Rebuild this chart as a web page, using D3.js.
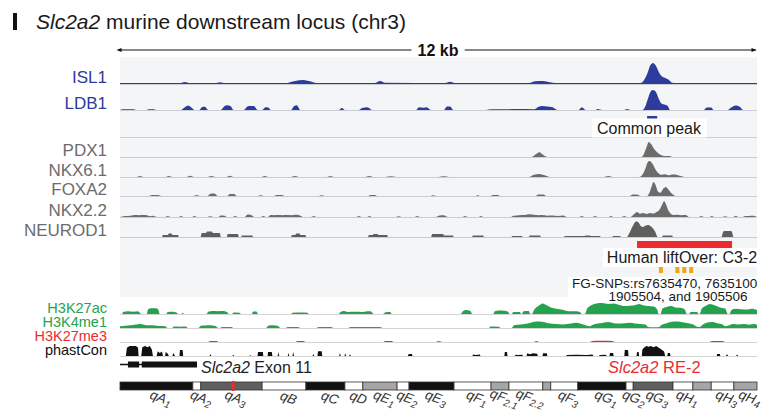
<!DOCTYPE html>
<html>
<head>
<meta charset="utf-8">
<script src="https://cdn.jsdelivr.net/npm/d3@7"></script>
<style>
  body { margin: 0; background: #fff; }
  text { font-family: "Liberation Sans", Arial, Helvetica, sans-serif; }
</style>
</head>
<body>
<div id="chart"></div>
<script>
// ---- data: positions in kb along the 12 kb locus, signal in arbitrary units ----
var locusKb = 12;

var isl1 = [[0,4],[1.13,4],[1.22,9],[1.32,4],[1.79,4],[1.88,8],[1.98,4],[3.11,4],[3.3,14],[3.45,18],[3.58,12],[3.7,4],
  [4.8,5],[4.9,14],[4.99,6],[6.12,4],[6.22,10],[6.31,4],[7.72,5],[7.82,12],[7.97,14],[8.1,8],[8.2,4],[9.8,4],[9.85,10],
  [9.93,45],[9.99,85],[10.04,96],[10.09,85],[10.15,55],[10.2,36],[10.27,27],[10.33,20],[10.4,6],[10.5,4],[12,4]];

var ldb1 = [[0,0],[0.05,3],[0.25,3],[0.3,0],[0.5,0],[0.55,3],[0.63,3],[0.68,0],[1.15,0],[1.22,12],[1.28,20],[1.34,12],[1.4,0],
  [1.49,0],[1.55,14],[1.6,15],[1.66,0],[1.9,0],[1.96,16],[2.02,22],[2.08,18],[2.14,0],[2.33,0],[2.4,16],[2.45,18],[2.52,18],[2.59,0],
  [2.68,0],[2.74,12],[2.8,10],[2.84,0],[3.22,0],[3.28,18],[3.33,22],[3.4,0],[4.12,0],[4.18,9],[4.24,0],[4.5,0],[4.56,9],[4.66,13],[4.76,0],
  [5.58,0],[5.63,12],[5.72,10],[5.78,13],[5.86,0],[6.1,0],[6.16,16],[6.22,16],[6.28,0],[6.9,0],[7.0,3],[7.3,3],[7.5,4],
  [7.8,3],[7.88,14],[7.95,18],[8.05,16],[8.15,12],[8.24,0],[8.64,0],[8.7,12],[8.77,0],[8.96,0],[9.0,4],[9.08,0],[9.5,0],[9.55,4],[9.62,0],
  [9.84,0],[9.89,14],[9.95,55],[10.0,85],[10.04,91],[10.1,80],[10.15,50],[10.2,30],[10.27,24],[10.32,18],[10.36,0],
  [11.0,0],[11.05,11],[11.14,11],[11.18,0],[11.45,0],[11.52,12],[11.6,20],[11.68,14],[11.74,0],[12,0]];

var pdx1 = [[0,0],[7.75,0],[7.82,10],[7.9,22],[7.97,10],[8.05,0],[9.82,0],[9.87,14],[9.92,45],[9.96,68],[10.0,60],[10.06,38],
  [10.12,22],[10.18,10],[10.25,5],[10.36,4],[10.4,0],[12,0]];

var nkx61 = [[0,0],[0.3,0],[0.38,5],[0.45,0],[0.85,0],[0.92,5],[1.0,0],[1.25,0],[1.32,6],[1.4,0],[1.65,0],[1.72,4],[1.8,0],
  [2.0,0],[2.07,6],[2.14,0],[2.65,0],[2.73,5],[2.8,0],[3.2,0],[3.3,5],[3.38,0],[3.9,0],[3.96,4],[4.03,0],[4.6,0],[4.7,5],[4.78,0],
  [5.0,0],[5.1,3],[5.2,0],[6.0,0],[6.1,3],[6.2,0],[7.7,0],[7.8,10],[7.9,14],[8.0,8],[8.1,0],[9.1,0],[9.2,5],[9.3,0],
  [9.78,0],[9.84,10],[9.9,40],[9.95,70],[9.98,73],[10.03,60],[10.08,38],[10.14,18],[10.2,10],[10.27,13],[10.34,8],[10.42,11],
  [10.5,9],[10.58,3],[10.64,0],[12,0]];

var foxa2 = [[0,0],[0.55,0],[0.6,4],[0.72,4],[0.78,0],[1.38,0],[1.45,4],[1.5,0],[1.65,0],[1.7,10],[1.78,11],[1.84,0],
  [2.02,0],[2.07,9],[2.15,9],[2.2,0],[2.6,0],[2.65,3],[2.7,0],[2.9,0],[2.95,4],[3.05,4],[3.1,0],[3.75,0],[3.8,3],[3.85,0],
  [4.67,0],[4.72,5],[4.8,5],[4.85,0],[5.85,0],[5.9,3],[5.95,0],[6.7,0],[6.74,3],[6.78,0],[6.98,0],[7.02,5],[7.12,5],[7.16,0],
  [7.83,0],[7.88,7],[7.98,7],[8.03,0],[9.6,0],[9.66,7],[9.76,6],[9.8,0],
  [9.93,0],[9.97,12],[10.01,40],[10.05,64],[10.09,50],[10.13,22],[10.18,15],[10.23,32],[10.28,41],[10.33,30],[10.4,10],[10.47,0],[12,0]];

var nkx22 = [[0,0],[0.09,4],[0.2,6],[0.28,9],[0.36,8],[0.44,9],[0.52,7],[0.58,3],[0.62,6],[0.7,0],[0.85,0],[0.9,4],[0.95,0],
  [1.1,0],[1.15,5],[1.2,0],[1.35,0],[1.4,5],[1.46,0],[1.65,0],[1.7,3],[1.75,0],[1.85,0],[1.9,7],[1.97,6],[2.02,0],[2.12,0],[2.17,4],[2.22,0],
  [2.35,0],[2.4,11],[2.47,9],[2.53,0],[2.65,0],[2.7,4],[2.75,0],[2.78,0],[2.84,9],[2.9,8],[2.98,9],[3.06,8],[3.14,9],[3.22,8],[3.3,10],
  [3.38,8],[3.45,0],[3.6,0],[3.65,4],[3.7,0],[4.45,0],[4.5,4],[4.55,0],[4.65,0],[4.7,5],[4.75,0],[5.2,0],[5.25,3],[5.3,0],
  [5.55,0],[5.6,4],[5.65,0],[5.95,0],[6.02,7],[6.1,8],[6.18,0],[6.45,0],[6.5,4],[6.55,0],[6.75,0],[6.8,5],[6.85,0],
  [7.35,0],[7.42,6],[7.52,8],[7.62,9],[7.72,12],[7.8,10],[7.88,8],[7.95,9],[8.05,6],[8.15,7],[8.25,5],[8.35,7],[8.42,0],
  [8.65,0],[8.7,4],[8.75,0],[8.9,0],[8.95,4],[9.0,0],[9.2,0],[9.25,5],[9.3,0],[9.45,0],[9.5,4],[9.55,0],
  [9.62,0],[9.68,12],[9.74,23],[9.8,15],[9.86,18],[9.92,14],[9.98,18],[10.04,16],[10.1,22],[10.16,32],[10.21,55],[10.25,73],
  [10.29,55],[10.33,30],[10.37,16],[10.43,9],[10.5,10],[10.58,8],[10.66,9],[10.72,0],[10.9,0],[10.95,4],[11.0,0],
  [11.1,0],[11.15,5],[11.2,0],[11.35,0],[11.4,3],[11.45,0],[11.55,0],[11.6,6],[11.65,0],[11.72,0],[11.78,5],[11.85,5],[11.92,6],[12,0]];

var neurod1 = [[0,0],[0.79,0],[0.81,9],[0.9,9],[0.92,16],[0.97,16],[0.99,9],[1.09,9],[1.11,0],[1.52,0],[1.54,18],[1.62,18],
  [1.64,25],[1.73,25],[1.75,18],[1.88,18],[1.9,0],[2.01,0],[2.03,14],[2.22,14],[2.24,0],[2.28,0],[2.3,7],[2.49,7],[2.51,0],
  [3.22,0],[3.24,9],[3.3,9],[3.32,16],[3.38,16],[3.4,9],[3.49,9],[3.51,0],[4.67,0],[4.69,9],[4.76,9],[4.78,14],[4.85,14],
  [4.87,9],[5.03,9],[5.05,0],[5.86,0],[5.88,14],[6.09,14],[6.1,7],[6.27,7],[6.29,0],[6.63,0],[6.65,7],[6.84,7],[6.86,0],
  [7.37,0],[7.39,5],[7.57,5],[7.59,0],[7.7,0],[7.72,7],[7.91,7],[7.93,0],[8.36,0],[8.38,4],[8.75,4],[8.77,7],[8.85,7],
  [8.87,4],[9.04,4],[9.06,0],[9.27,0],[9.29,4],[9.42,4],[9.44,0],[9.55,0],[9.6,20],[9.66,50],[9.72,70],[9.76,68],[9.81,50],
  [9.85,45],[9.9,52],[9.95,55],[9.99,50],[10.03,42],[10.08,25],[10.13,0],[10.21,0],[10.23,7],[10.4,7],[10.42,0],
  [11.33,0],[11.36,22],[11.38,27],[11.51,27],[11.53,22],[11.56,0],[12,0]];

var h3k27ac = [[0,0],[0.04,0],[0.06,9],[0.15,12],[0.25,10],[0.34,12],[0.4,0],[0.5,0],[0.53,22],[0.58,26],[0.68,26],[0.72,20],[0.75,0],
  [0.87,0],[0.9,9],[1.0,10],[1.07,6],[1.1,0],[1.15,0],[1.18,5],[1.22,0],[1.63,0],[1.66,10],[1.74,14],[1.84,13],[1.94,14],[2.02,8],[2.05,0],
  [2.11,0],[2.14,7],[2.25,6],[2.28,0],[2.48,0],[2.51,11],[2.57,11],[2.6,0],[3.22,0],[3.25,6],[3.4,7],[3.53,6],[3.56,0],
  [4.12,0],[4.15,8],[4.22,14],[4.3,9],[4.42,10],[4.55,9],[4.66,13],[4.72,12],[4.78,0],[4.95,0],[4.98,5],[5.03,9],[5.09,9],[5.12,0],
  [6.42,0],[6.46,12],[6.52,18],[6.6,14],[6.64,0],[7.03,0],[7.06,12],[7.14,16],[7.24,15],[7.31,10],[7.34,0],[7.38,0],[7.41,9],[7.53,9],[7.56,0],
  [7.57,0],[7.6,12],[7.7,14],[7.73,0],[7.76,0],[7.8,18],[7.88,36],[7.96,48],[8.04,40],[8.12,30],[8.22,24],[8.32,20],[8.42,14],
  [8.5,12],[8.6,13],[8.67,8],[8.7,0],[8.76,0],[8.8,25],[8.88,40],[8.98,48],[9.08,50],[9.2,46],[9.3,48],[9.4,42],[9.5,36],[9.6,38],
  [9.7,40],[9.78,45],[9.85,40],[9.95,36],[10.05,34],[10.12,20],[10.15,0],[10.18,0],[10.22,25],[10.3,32],[10.38,36],[10.46,30],
  [10.56,28],[10.64,20],[10.68,0],[10.72,0],[10.75,9],[10.87,9],[10.9,0],[10.92,0],[10.96,25],[11.04,38],[11.12,45],[11.2,40],
  [11.3,30],[11.4,25],[11.45,0],[11.48,0],[11.52,18],[11.6,24],[11.7,22],[11.8,20],[11.9,24],[12,18]];

var h3k4me1 = [[0,8],[0.1,10],[0.2,12],[0.3,16],[0.38,18],[0.45,15],[0.55,12],[0.65,11],[0.75,9],[0.85,8],[0.9,0],
  [0.98,0],[1.02,7],[1.12,6],[1.24,7],[1.28,0],[1.48,0],[1.52,10],[1.6,11],[1.7,12],[1.8,9],[1.85,0],[1.88,0],[1.92,5],[2.1,5],[2.14,0],
  [2.75,0],[2.79,10],[2.88,12],[2.98,9],[3.02,0],[3.12,0],[3.16,4],[3.35,4],[3.4,0],[3.7,0],[3.74,4],[3.98,4],[4.02,0],
  [4.3,0],[4.34,4],[4.9,4],[4.95,0],[6.95,0],[6.98,7],[7.14,6],[7.17,0],[7.38,0],[7.42,12],[7.55,16],[7.7,22],[7.8,28],[7.9,30],
  [8.0,26],[8.1,20],[8.2,18],[8.35,16],[8.5,20],[8.6,24],[8.7,18],[8.85,8],[8.9,14],[9.0,20],[9.1,24],[9.2,27],[9.3,22],[9.4,20],
  [9.5,22],[9.6,24],[9.7,20],[9.8,18],[9.9,16],[9.95,4],[10.0,3],[10.1,3],[10.15,4],[10.2,14],[10.3,22],[10.4,28],[10.5,30],
  [10.6,26],[10.7,22],[10.8,16],[10.87,6],[10.92,4],[10.98,16],[11.05,24],[11.15,27],[11.25,22],[11.35,16],[11.4,8],
  [11.45,10],[11.55,18],[11.65,16],[11.75,18],[11.85,15],[11.95,18],[12,14]];

var h3k27me3 = [[0,0],[1.65,0],[1.7,5],[1.82,5],[1.86,0],[3.3,0],[3.35,4],[3.45,4],[3.5,0],[4.95,0],[5.0,5],[5.12,5],[5.16,0],
  [5.95,0],[6.0,4],[6.08,0],[7.8,0],[7.84,4],[7.9,0],[8.85,0],[8.9,4],[9.0,6],[9.15,6],[9.28,4],[9.32,0],
  [11.1,0],[11.15,4],[11.35,4],[11.4,0],[12,0]];

var phastcon = [[0,0],[0.11,0],[0.13,38],[0.18,45],[0.3,45],[0.34,38],[0.35,0],[0.4,0],[0.42,40],[0.47,46],[0.52,40],[0.56,45],[0.6,30],[0.62,0],
  [0.69,0],[0.71,22],[0.75,14],[0.79,20],[0.81,0],[0.85,0],[0.86,18],[0.9,10],[0.92,0],[0.99,0],[1.0,14],[1.04,0],
  [1.12,0],[1.13,27],[1.18,27],[1.19,0],[1.69,0],[1.7,9],[1.72,0],[2.12,0],[2.13,7],[2.15,0],[2.44,0],[2.45,5],[2.47,0],
  [2.59,0],[2.6,18],[2.69,18],[2.7,0],[2.78,0],[2.79,18],[2.86,18],[2.87,0],[2.97,0],[2.98,18],[3.0,0],[3.16,0],[3.17,14],[3.19,0],
  [3.25,0],[3.26,18],[3.28,0],[3.63,0],[3.64,9],[3.66,0],[3.72,0],[3.73,22],[3.8,22],[3.81,0],[4.13,0],[4.14,14],[4.16,0],
  [4.23,0],[4.24,12],[4.26,0],[4.32,0],[4.33,9],[4.35,0],[5.42,0],[5.44,9],[5.5,9],[5.51,0],[6.64,0],[6.65,7],[6.7,5],[6.78,7],[6.79,0],
  [7.24,0],[7.25,18],[7.29,18],[7.3,0],[7.44,0],[7.45,6],[7.5,4],[7.58,6],[7.59,0],[7.66,0],[7.67,12],[7.72,8],[7.78,12],[7.86,10],[7.87,0],
  [7.96,0],[7.97,12],[8.04,12],[8.05,0],[8.4,0],[8.42,5],[8.6,6],[8.8,5],[8.9,7],[8.92,0],[9.02,0],[9.04,5],[9.15,6],[9.17,0],
  [9.22,0],[9.23,14],[9.29,14],[9.3,0],[9.5,0],[9.51,27],[9.57,27],[9.58,0],[9.73,0],[9.74,18],[9.77,18],[9.78,0],
  [9.83,0],[9.84,30],[9.88,40],[9.92,45],[9.96,42],[10.0,45],[10.05,40],[10.1,45],[10.15,38],[10.2,30],[10.25,20],[10.27,0],
  [10.31,0],[10.32,14],[10.36,14],[10.37,0],[11.24,0],[11.25,9],[11.3,9],[11.31,0],[11.42,0],[11.43,9],[11.46,0],[11.61,0],[11.62,7],[11.65,0],[12,0]];

// regions (kb)
var commonPeak = [9.93, 10.12];
var liftOver = [9.74, 11.53];
var fgSnps = [10.19, 10.5, 10.63, 10.76];
var geneExons = [[0.15, 0.36], [0.41, 1.45]];
var geneSpan = [0, 1.45];

// chr3 cytobands (Mb)
var bandNames = ["qA1","qA2","qA3","qB","qC","qD","qE1","qE2","qE3","qF1","qF2.1","qF2.2","qF2.3","qF3","qG1","qG2","qG3","qH1","qH2","qH3","qH4"];
var bandStarts = [0,18.3,20.3,35.7,46.7,56.5,61.0,69.6,72.6,83.9,93.2,97.7,106.2,108.2,115.0,127.1,128.9,138.9,143.9,148.5,154.2];
var bandEnds   = [18.3,20.3,35.7,46.7,56.5,61.0,69.6,72.6,83.9,93.2,97.7,106.2,108.2,115.0,127.1,128.9,138.9,143.9,148.5,154.2,160];
var bandStain  = ["gpos100","gneg","gpos75","gneg","gpos100","gneg","gpos50","gneg","gpos100","gneg","gpos50","gneg","gpos50","gneg","gpos100","gneg","gpos75","gneg","gpos50","gneg","gpos50"];
var bandLabelled = [1,1,1,1,1,1,1,1,1,1,1,1,0,1,1,1,1,1,0,1,1];
var locusMb = 28.4;
var chrLength = 160;

// ---- drawing ----
var W = 766, H = 418;
var svg = d3.select("#chart").append("svg").attr("width", W).attr("height", H);

var x = d3.scaleLinear().domain([0, locusKb]).range([120, 757]);
var h = d3.scaleLinear().domain([0, 100]).range([0, 22]);

var blue = "#2c3b9c", grey = "#6c6c6c", green = "#25a24d", red = "#ec2a30";

var tracks = [
  {name: "ISL1", data: isl1, y: 84, fill: blue, label: blue, panel: true},
  {name: "LDB1", data: ldb1, y: 110, fill: blue, label: blue, panel: true},
  {name: "", data: null, y: 137, panel: true},
  {name: "PDX1", data: pdx1, y: 157, fill: grey, label: grey, panel: true},
  {name: "NKX6.1", data: nkx61, y: 177, fill: grey, label: grey, panel: true},
  {name: "FOXA2", data: foxa2, y: 196, fill: grey, label: grey, panel: true},
  {name: "NKX2.2", data: nkx22, y: 217, fill: grey, label: grey, panel: true},
  {name: "NEUROD1", data: neurod1, y: 237, fill: "#5e5e5e", label: grey, panel: true},
  {name: "H3K27ac", data: h3k27ac, y: 314, fill: green, label: green},
  {name: "H3K4me1", data: h3k4me1, y: 328, fill: green, label: green},
  {name: "H3K27me3", data: h3k27me3, y: 342, fill: red, label: red},
  {name: "phastCon", data: phastcon, y: 356, fill: "#111", label: "#111", linear: true}
];

// title
svg.append("rect").attr("x", 13).attr("y", 13).attr("width", 4).attr("height", 17).attr("fill", "#111");
var title = svg.append("text").attr("x", 36).attr("y", 29).attr("font-size", 21).attr("fill", "#1a1a1a");
title.append("tspan").attr("font-style", "italic").text("Slc2a2");
title.append("tspan").text(" murine downstream locus (chr3)");

// scale bar
var defs = svg.append("defs");
["start", "end"].forEach(function(k) {
  defs.append("marker").attr("id", "arr-" + k).attr("viewBox", "0 0 10 10")
    .attr("refX", k == "end" ? 9 : 1).attr("refY", 5).attr("markerWidth", 7).attr("markerHeight", 5)
    .attr("orient", "auto-start-reverse")
    .append("path").attr("d", "M0,1 L10,5 L0,9 z").attr("fill", "#111");
});
svg.append("line").attr("x1", x(0) + 1).attr("x2", x(locusKb) - 1).attr("y1", 50).attr("y2", 50)
  .attr("stroke", "#111").attr("stroke-width", 1)
  .attr("marker-start", "url(#arr-start)").attr("marker-end", "url(#arr-end)");
var kbLabel = svg.append("text").attr("x", 438).attr("y", 55.5).attr("text-anchor", "middle")
  .attr("font-size", 16).attr("font-weight", "bold").attr("fill", "#111").text(locusKb + " kb");
var kb = kbLabel.node().getBBox();
svg.insert("rect", "text:last-of-type").attr("x", kb.x - 6).attr("y", 44).attr("width", kb.width + 12).attr("height", 12).attr("fill", "#fff");
kbLabel.raise();

// light panel behind TF tracks
svg.append("rect").attr("x", x(0)).attr("y", 57).attr("width", x(locusKb) - x(0)).attr("height", 240).attr("fill", "#f4f5f7");

var areaGen = d3.area().x(function(d) { return x(d[0]); }).y0(0).y1(function(d) { return -h(d[1]); });

tracks.forEach(function(t) {
  var g = svg.append("g").attr("transform", "translate(0," + t.y + ")");
  g.append("line").attr("x1", x(0)).attr("x2", x(locusKb)).attr("y1", 0.5).attr("y2", 0.5)
    .attr("stroke", t.panel ? "#c9ccd4" : "#d4d4d4").attr("stroke-width", 1.2);
  if (t.data) {
    var pts = t.data.slice().sort(function(a, b) { return a[0] - b[0]; });
    areaGen.curve(t.linear ? d3.curveLinear : d3.curveMonotoneX);
    g.append("path").attr("d", areaGen(pts)).attr("fill", t.fill);
  }
  if (t.name) {
    svg.append("text").attr("x", 107).attr("y", t.y - (t.panel ? 1 : 1.5)).attr("text-anchor", "end")
      .attr("font-size", t.panel ? 17 : 14.5).attr("fill", t.label).text(t.name);
  }
});

// common peak
svg.append("rect").attr("x", x(commonPeak[0])).attr("width", x(commonPeak[1]) - x(commonPeak[0]))
  .attr("y", 116).attr("height", 5).attr("fill", blue);

function boxedText(tx, ty, size, str, anchor, pad) {
  var grp = svg.append("g");
  var r = grp.append("rect").attr("fill", "#fff");
  var t = grp.append("text").attr("x", tx).attr("y", ty).attr("font-size", size).attr("fill", "#1a1a1a")
    .attr("text-anchor", anchor || "middle").text(str);
  var b = t.node().getBBox();
  r.attr("x", b.x - pad).attr("y", b.y - 1).attr("width", b.width + 2 * pad).attr("height", b.height + 2);
  return grp;
}
boxedText(649, 133.5, 16, "Common peak", "middle", 5);

// human liftover
svg.append("rect").attr("x", x(liftOver[0])).attr("width", x(liftOver[1]) - x(liftOver[0]))
  .attr("y", 241).attr("height", 7).attr("fill", red);
boxedText(682, 263, 16, "Human liftOver: C3-2", "middle", 4);

// FG-SNPs
svg.append("rect").attr("x", 568).attr("y", 277).attr("width", 198).attr("height", 20).attr("fill", "#fff");
svg.selectAll(".snp").data(fgSnps).enter().append("rect")
  .attr("x", function(d) { return x(d) - 2; }).attr("width", 4)
  .attr("y", 267).attr("height", 6).attr("fill", "#f5a312");
svg.append("text").attr("x", 572).attr("y", 287.5).attr("font-size", 13.5).attr("fill", "#1a1a1a").text("FG-SNPs:rs7635470, 7635100");
svg.append("text").attr("x", 678).attr("y", 301).attr("text-anchor", "middle").attr("font-size", 13.5).attr("fill", "#1a1a1a").text("1905504, and 1905506");

// gene model
svg.append("line").attr("x1", x(geneSpan[0])).attr("x2", x(geneSpan[1])).attr("y1", 364.5).attr("y2", 364.5)
  .attr("stroke", "#111").attr("stroke-width", 1.5);
svg.selectAll(".exon").data(geneExons).enter().append("rect")
  .attr("x", function(d) { return x(d[0]); }).attr("width", function(d) { return x(d[1]) - x(d[0]); })
  .attr("y", 361.5).attr("height", 6).attr("fill", "#111");
var gt = svg.append("text").attr("x", 201).attr("y", 372.5).attr("font-size", 16).attr("fill", "#222");
gt.append("tspan").attr("font-style", "italic").text("Slc2a2");
gt.append("tspan").text(" Exon 11");
var rt = svg.append("text").attr("x", 608).attr("y", 372.5).attr("font-size", 16.5).attr("fill", red);
rt.append("tspan").attr("font-style", "italic").text("Slc2a2");
rt.append("tspan").text(" RE-2");

// ideogram
var xi = d3.scaleLinear().domain([0, chrLength]).range([120, 757]);
var stainColor = {gpos100: "#111", gpos75: "#5f5f5f", gpos50: "#a6a6a6", gneg: "#fff"};
var bands = bandNames.map(function(n, i) {
  return {name: n, start: bandStarts[i], end: bandEnds[i], stain: bandStain[i], lab: bandLabelled[i]};
});
svg.selectAll(".band").data(bands).enter().append("rect")
  .attr("x", function(d) { return xi(d.start); }).attr("width", function(d) { return xi(d.end) - xi(d.start); })
  .attr("y", 382).attr("height", 8)
  .attr("fill", function(d) { return stainColor[d.stain]; })
  .attr("stroke", "#333").attr("stroke-width", 0.8);
svg.append("rect").attr("x", xi(locusMb) - 1.5).attr("width", 3).attr("y", 381).attr("height", 10).attr("fill", red);

svg.selectAll(".blab").data(bands.filter(function(d) { return d.lab; })).enter().append("text")
  .attr("transform", function(d) {
    var cx = (xi(d.start) + xi(d.end)) / 2 + 3;
    return "translate(" + cx + ",402) rotate(20)";
  })
  .attr("text-anchor", "middle").attr("font-size", 13.5).attr("font-style", "italic").attr("fill", "#333")
  .each(function(d) {
    var m = d.name.match(/^(q[A-H])(.*)$/);
    var t = d3.select(this);
    t.append("tspan").text(m[1]);
    if (m[2]) t.append("tspan").attr("font-size", 10).attr("dy", 3).text(m[2]);
  });
</script>
</body>
</html>
